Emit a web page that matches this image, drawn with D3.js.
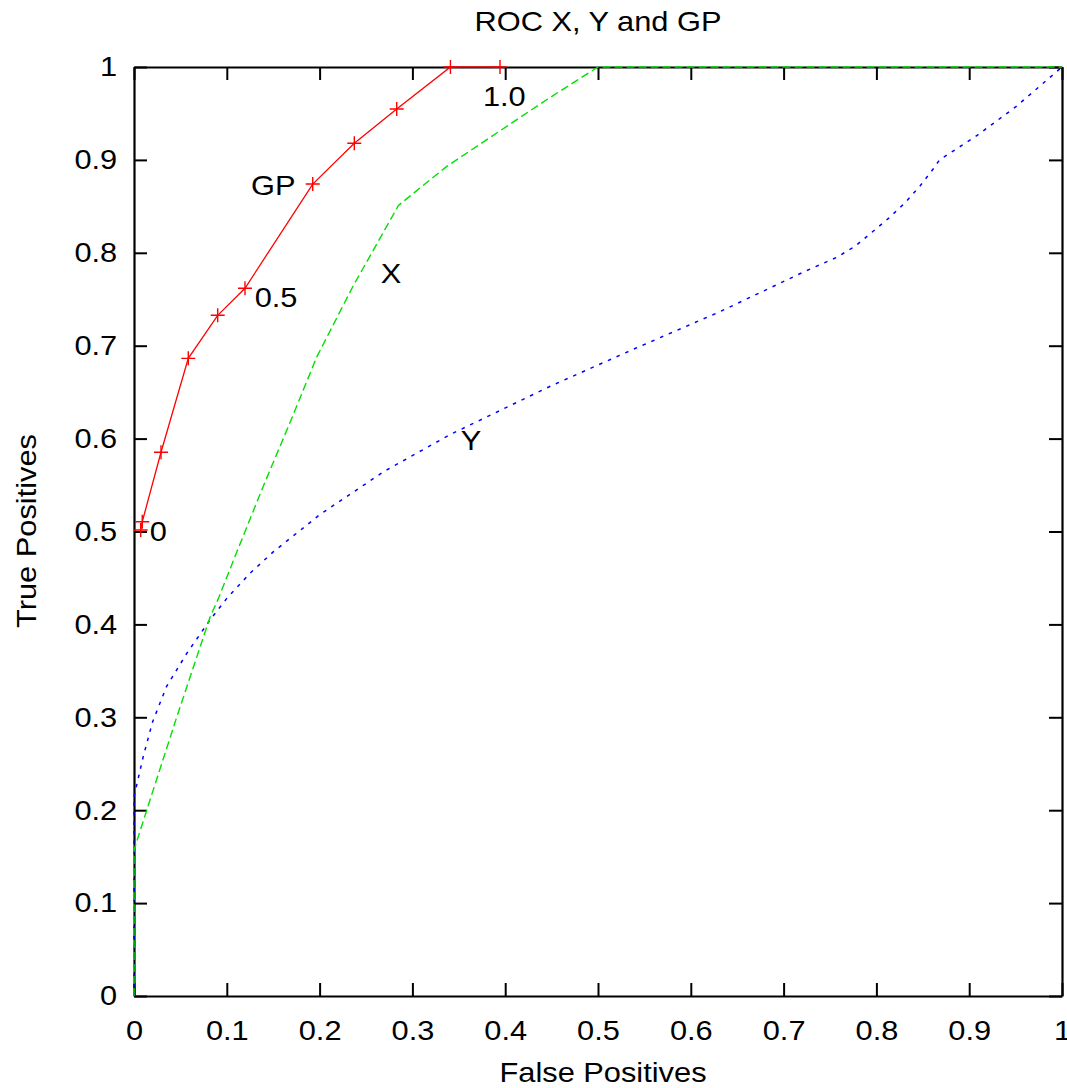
<!DOCTYPE html>
<html><head><meta charset="utf-8">
<script src="https://cdn.jsdelivr.net/npm/d3@7"></script>
<style>
body{margin:0;background:#fff}
text{font-family:"Liberation Sans",Arial,sans-serif;fill:#000}
</style>
</head><body>
<svg id="c" width="1067" height="1088"></svg>
<script>
// GP series (with point markers)
const gpFP = [0.0072, 0.0089, 0.0291, 0.0585, 0.0902, 0.1196, 0.1926, 0.2374, 0.2831, 0.3410, 0.3944];
const gpTP = [0.5016, 0.5105, 0.5853, 0.6864, 0.7327, 0.7618, 0.8740, 0.9179, 0.9548, 1.0, 1.0];
// X series (green dashed)
const xFP = [0, 0, 0.0137, 0.046, 0.082, 0.091, 0.110, 0.139, 0.168, 0.197, 0.236, 0.285, 0.337, 0.445, 0.5, 1.0];
const xTP = [0, 0.157, 0.200, 0.300, 0.408, 0.428, 0.476, 0.548, 0.617, 0.688, 0.764, 0.851, 0.893, 0.965, 1.0, 1.0];
// Y series (blue dotted)
const yFP = [0, 0, 0.010, 0.020, 0.035, 0.057, 0.082, 0.100, 0.125, 0.150, 0.200, 0.270, 0.340, 0.450, 0.540, 0.630, 0.723, 0.757, 0.777, 0.795, 0.813, 0.831, 0.847, 0.861, 0.868, 0.908, 0.950, 1.0];
const yTP = [0, 0.2145, 0.258, 0.295, 0.333, 0.369, 0.405, 0.428, 0.455, 0.478, 0.518, 0.565, 0.604, 0.657, 0.697, 0.736, 0.780, 0.795, 0.807, 0.822, 0.837, 0.854, 0.872, 0.890, 0.900, 0.926, 0.957, 1.0];
// ticks
const tickValues = [0, 0.1, 0.2, 0.3, 0.4, 0.5, 0.6, 0.7, 0.8, 0.9, 1];
const tickLabels = ["0", "0.1", "0.2", "0.3", "0.4", "0.5", "0.6", "0.7", "0.8", "0.9", "1"];
// annotations
const labelTexts = ["0", "0.5", "GP", "1.0", "X", "Y"];
const labelFP = [0.017, 0.130, 0.126, 0.376, 0.266, 0.352];
const labelTP = [0.490, 0.742, 0.862, 0.958, 0.768, 0.588];

const svg = d3.select("#c");
const L = 134, R = 1062, T = 67, B = 996;
const x = d3.scaleLinear().domain([0, 1]).range([L, R]);
const y = d3.scaleLinear().domain([0, 1]).range([B, T]);
const FS = 27.5, SX = 1.12;

function styleAxis(g) {
  g.selectAll("path.domain").attr("stroke", "#000").attr("stroke-width", 2.2);
  g.selectAll(".tick line").attr("stroke", "#000").attr("stroke-width", 2);
  g.selectAll(".tick text").attr("font-size", FS).attr("font-family", '"Liberation Sans", Arial, sans-serif')
    .attr("fill", "#000").attr("transform", `scale(${SX},1)`);
}

svg.append("g").attr("transform", `translate(0,${B})`)
  .call(d3.axisBottom(x).tickValues(tickValues).tickFormat((d, i) => tickLabels[i]).tickSize(-13).tickSizeOuter(0).tickPadding(24))
  .call(styleAxis);
svg.append("g").attr("transform", `translate(${L},0)`)
  .call(d3.axisLeft(y).tickValues(tickValues).tickFormat((d, i) => tickLabels[i]).tickSize(-13).tickSizeOuter(0).tickPadding(15))
  .call(styleAxis);
svg.append("g").attr("transform", `translate(0,${T})`)
  .call(d3.axisTop(x).tickValues(tickValues).tickFormat("").tickSize(-13).tickSizeOuter(0))
  .call(styleAxis);
svg.append("g").attr("transform", `translate(${R},0)`)
  .call(d3.axisRight(y).tickValues(tickValues).tickFormat("").tickSize(-13).tickSizeOuter(0))
  .call(styleAxis);

const line = d3.line().x(d => x(d[0])).y(d => y(d[1]));

svg.append("path").datum(d3.zip(yFP, yTP)).attr("d", line)
  .attr("fill", "none").attr("stroke", "#0000ff").attr("stroke-width", 1.5).attr("stroke-dasharray", "3.5,6");
svg.append("path").datum(d3.zip(xFP, xTP)).attr("d", line)
  .attr("fill", "none").attr("stroke", "#00e000").attr("stroke-width", 1.4).attr("stroke-dasharray", "8,4");
const gpData = d3.zip(gpFP, gpTP);
svg.append("path").datum(gpData).attr("d", line)
  .attr("fill", "none").attr("stroke", "#ff0000").attr("stroke-width", 1.3);
svg.append("g").selectAll("path").data(gpData).join("path")
  .attr("d", d => `M${x(d[0]) - 7},${y(d[1])}h14M${x(d[0])},${y(d[1]) - 7}v14`)
  .attr("stroke", "#ff0000").attr("stroke-width", 1.4).attr("fill", "none");

svg.append("g").selectAll("text").data(labelTexts).join("text")
  .attr("transform", (d, i) => `translate(${x(labelFP[i])},${y(labelTP[i])}) scale(${SX},1)`)
  .attr("font-size", FS).text(d => d);

svg.append("text").attr("transform", `translate(598,31) scale(${SX},1)`).attr("text-anchor", "middle").attr("font-size", FS).text("ROC X, Y and GP");
svg.append("text").attr("transform", `translate(603,1082) scale(${SX},1)`).attr("text-anchor", "middle").attr("font-size", FS).text("False Positives");
svg.append("text").attr("transform", `translate(36,531) rotate(-90) scale(${SX},1)`).attr("text-anchor", "middle").attr("font-size", FS).text("True Positives");
</script>
</body></html>
